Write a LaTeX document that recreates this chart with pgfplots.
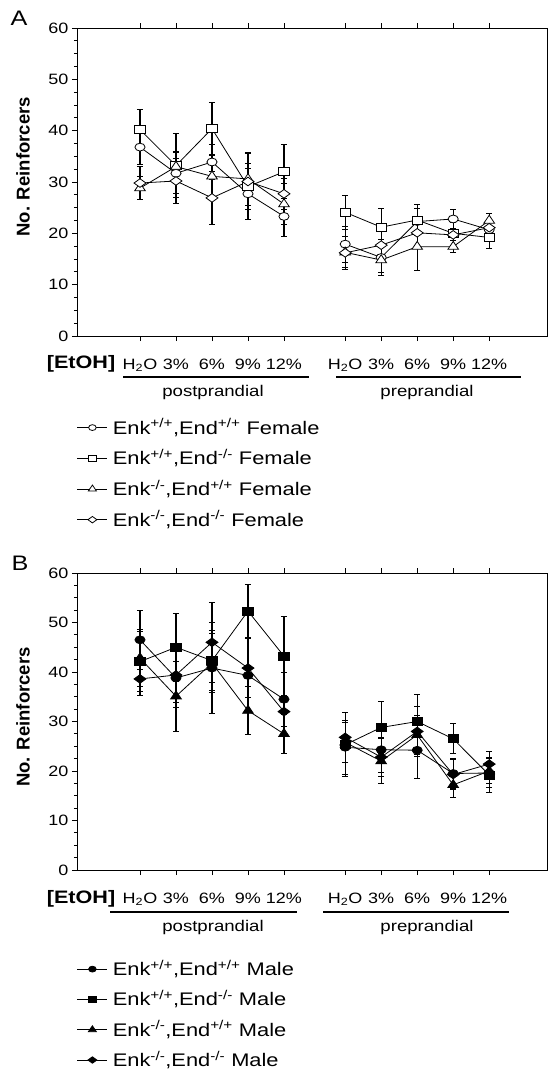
\documentclass[border=0pt]{standalone}
\usepackage{fontspec}
\setmainfont{Liberation Sans}[FakeStretch=1.2]
\newfontfamily\ylabfont{Liberation Sans}
\usepackage{pgfplots}
\pgfplotsset{compat=1.18}
\newcommand{\fs}[1]{\fontsize{#1bp}{#1bp}\selectfont}
\pgfplotsset{
  base/.style={
    scale only axis, width=470bp,
    xmin=-0.75, xmax=12.306, ymin=0, ymax=60,
    xtick={1,2,3,4,5,6.7,7.7,8.7,9.7,10.7},
    xticklabels={H\textsubscript{2}O,3\%,6\%,9\%,12\%,H\textsubscript{2}O,3\%,6\%,9\%,12\%},
    xtick pos=both, xticklabel pos=lower,
    ytick={0,10,...,60}, minor y tick num=3, ytick pos=left,
    tick align=outside, major tick length=5bp, minor tick length=3bp,
    axis line style={line width=0.8bp},
    every tick/.style={black, line width=0.8bp},
    /pgf/number format/assume math mode=true,
    yticklabel style={font=\fs{15}},
    xticklabel style={font=\fs{15}, anchor=base, yshift=-28bp},
    ylabel style={font=\ylabfont\bfseries\fs{18.5}, rotate=0},
    error bars/y dir=both, error bars/y explicit,
    error bars/error bar style={line width=1.1bp, black},
    error bars/error mark options={rotate=90, mark size=3bp, line width=1bp, black},
    legend cell align=left,
    legend image code/.code={\draw[mark repeat=2, mark phase=2, every mark/.append style={scale=0.75}] plot coordinates {(0bp,0.5bp) (15bp,0.5bp) (30bp,0.5bp)};},
  },
  ln/.style={black, line width=0.8bp, solid},
  mcirc/.style={ln, mark=*, mark size=3.9bp, mark options={xscale=1.3, fill=#1, draw=black, line width=0.8bp, solid}},
  msq/.style={ln, mark=square*, mark size=4bp, mark options={xscale=1.3, fill=#1, draw=black, line width=0.8bp, solid}},
  mtri/.style={ln, mark=triangle*, mark size=5.3bp, mark options={xscale=1.16, fill=#1, draw=black, line width=0.8bp, solid}},
  mdia/.style={ln, mark=diamond*, mark size=4.3bp, mark options={xscale=1.85, fill=#1, draw=black, line width=0.8bp, solid}},
}
\begin{document}
\begin{tikzpicture}
\path[use as bounding box] (0bp,0bp) rectangle (553bp,-1074bp);
% ---------------- Panel A ----------------
\begin{axis}[base, at={(77bp,-336bp)}, anchor=south west, height=308bp,
  ylabel={No. Reinforcers}, ylabel style={at={(axis description cs:-0.115,0.549)}, anchor=center},
  legend style={at={(axis description cs:0,-0.26)}, anchor=north west, draw=none, fill=none,
    inner sep=0pt, outer sep=0pt, row sep=6.7bp, column sep=5bp, font=\fs{18.2},
    nodes={inner sep=0pt, text height=18bp, text depth=6bp}},
]
\addplot[mcirc=white] coordinates {
 (1,36.8) +- (0,3.4) (2,31.7) +- (0,4.0) (3,33.9) +- (0,3.5) (4,27.7) +- (0,5.0) (5,23.3) +- (0,3.9)};
\addlegendentry{Enk\textsuperscript{+/+},End\textsuperscript{+/+} Female}
\addplot[mcirc=white, forget plot] coordinates {
 (6.7,17.9) +- (0,3.5) (7.7,15.3) +- (0,3.5) (8.7,22.3) +- (0,2.5) (9.7,22.8) +- (0,1.8) (10.7,20.7) +- (0,1.5)};
\addplot[msq=white] coordinates {
 (1,40.2) +- (0,3.9) (2,33.2) +- (0,6.3) (3,40.4) +- (0,5.1) (4,29.1) +- (0,4.5) (5,32.0) +- (0,5.3)};
\addlegendentry{Enk\textsuperscript{+/+},End\textsuperscript{-/-} Female}
\addplot[msq=white, forget plot] coordinates {
 (6.7,24.1) +- (0,3.3) (7.7,21.2) +- (0,3.6) (8.7,22.6) +- (0,3.1) (9.7,20.0) +- (0,2.5) (10.7,19.2) +- (0,2.1)};
\addplot[mtri=white] coordinates {
 (1,28.8) +- (0,2.2) (2,33.0) +- (0,3.0) (3,31.1) +- (0,4.0) (4,30.6) +- (0,5.2) (5,25.7) +- (0,4.0)};
\addlegendentry{Enk\textsuperscript{-/-},End\textsuperscript{+/+} Female}
\addplot[mtri=white, forget plot] coordinates {
 (6.7,16.3) +- (0,3.0) (7.7,14.8) +- (0,2.5) (8.7,17.4) +- (0,4.7) (9.7,17.4) +- (0,1.2) (10.7,22.5) +- (0,1.4)};
\addplot[mdia=white] coordinates {
 (1,29.8) +- (0,3.2) (2,30.2) +- (0,4.3) (3,26.9) +- (0,5.2) (4,30.1) +- (0,5.5) (5,27.7) +- (0,3.0)};
\addlegendentry{Enk\textsuperscript{-/-},End\textsuperscript{-/-} Female}
\addplot[mdia=white, forget plot] coordinates {
 (6.7,16.2) +- (0,3.2) (7.7,17.7) +- (0,3.0) (8.7,20.1) +- (0,3.0) (9.7,19.7) +- (0,2.5) (10.7,21.1) +- (0,1.5)};
\end{axis}
% ---------------- Panel B ----------------
\begin{axis}[base, at={(77bp,-870bp)}, anchor=south west, height=297bp,
  ylabel={No. Reinforcers}, ylabel style={at={(axis description cs:-0.115,0.515)}, anchor=center},
  legend style={at={(axis description cs:0,-0.295)}, anchor=north west, draw=none, fill=none,
    inner sep=0pt, outer sep=0pt, row sep=6.3bp, column sep=5bp, font=\fs{18.2},
    nodes={inner sep=0pt, text height=18bp, text depth=6bp}},
]
\addplot[mcirc=black] coordinates {
 (1,46.5) +- (0,6.0) (2,38.8) +- (0,6.0) (3,40.8) +- (0,9.2) (4,39.3) +- (0,7.4) (5,34.5) +- (0,5.5)};
\addlegendentry{Enk\textsuperscript{+/+},End\textsuperscript{+/+} Male}
\addplot[mcirc=black, forget plot] coordinates {
 (6.7,24.8) +- (0,5.5) (7.7,24.3) +- (0,4.5) (8.7,24.2) +- (0,5.8) (9.7,19.5) +- (0,3.0) (10.7,19.6) +- (0,3.0)};
\addplot[msq=black] coordinates {
 (1,42.1) +- (0,6.0) (2,45.0) +- (0,6.9) (3,42.3) +- (0,6.0) (4,52.3) +- (0,5.4) (5,43.2) +- (0,8.0)};
\addlegendentry{Enk\textsuperscript{+/+},End\textsuperscript{-/-} Male}
\addplot[msq=black, forget plot] coordinates {
 (6.7,25.3) +- (0,6.5) (7.7,28.8) +- (0,5.3) (8.7,30.0) +- (0,5.4) (9.7,26.5) +- (0,3.0) (10.7,19.2) +- (0,3.5)};
\addplot[mtri=black] coordinates {
 (1,42.8) +- (0,5.7) (2,35.1) +- (0,7.1) (3,41.8) +- (0,6.0) (4,32.2) +- (0,4.8) (5,27.5) +- (0,3.9)};
\addlegendentry{Enk\textsuperscript{-/-},End\textsuperscript{+/+} Male}
\addplot[mtri=black, forget plot] coordinates {
 (6.7,25.8) +- (0,4.0) (7.7,22.0) +- (0,4.5) (8.7,27.3) +- (0,4.0) (9.7,17.2) +- (0,2.5) (10.7,20.0) +- (0,2.5)};
\addplot[mdia=black] coordinates {
 (1,38.6) +- (0,3.4) (2,39.4) +- (0,5.5) (3,46.0) +- (0,8.1) (4,40.8) +- (0,6.0) (5,32.0) +- (0,3.0)};
\addlegendentry{Enk\textsuperscript{-/-},End\textsuperscript{-/-} Male}
\addplot[mdia=black, forget plot] coordinates {
 (6.7,26.8) +- (0,5.0) (7.7,22.8) +- (0,4.0) (8.7,28.0) +- (0,5.0) (9.7,19.3) +- (0,3.0) (10.7,21.4) +- (0,2.6)};
\end{axis}
% ---------------- annotations ----------------
\node[font=\fs{21}, anchor=base] at (19bp,-25bp) {A};
\node[font=\fs{21}, anchor=base] at (20bp,-570bp) {B};
\node[font=\bfseries\fs{18}, anchor=base] at (81bp,-368bp) {[EtOH]};
\draw[line width=1.5bp] (123bp,-377bp) -- (309bp,-377bp);
\draw[line width=1.5bp] (336bp,-377bp) -- (521bp,-377bp);
\node[font=\fs{15.5}, anchor=base] at (213bp,-396bp) {postprandial};
\node[font=\fs{15.5}, anchor=base] at (427bp,-396bp) {preprandial};
\node[font=\bfseries\fs{18}, anchor=base] at (81bp,-903bp) {[EtOH]};
\draw[line width=1.5bp] (110bp,-912bp) -- (297bp,-912bp);
\draw[line width=1.5bp] (323bp,-912bp) -- (509bp,-912bp);
\node[font=\fs{15.5}, anchor=base] at (213bp,-931bp) {postprandial};
\node[font=\fs{15.5}, anchor=base] at (427bp,-931bp) {preprandial};
\end{tikzpicture}
\end{document}
